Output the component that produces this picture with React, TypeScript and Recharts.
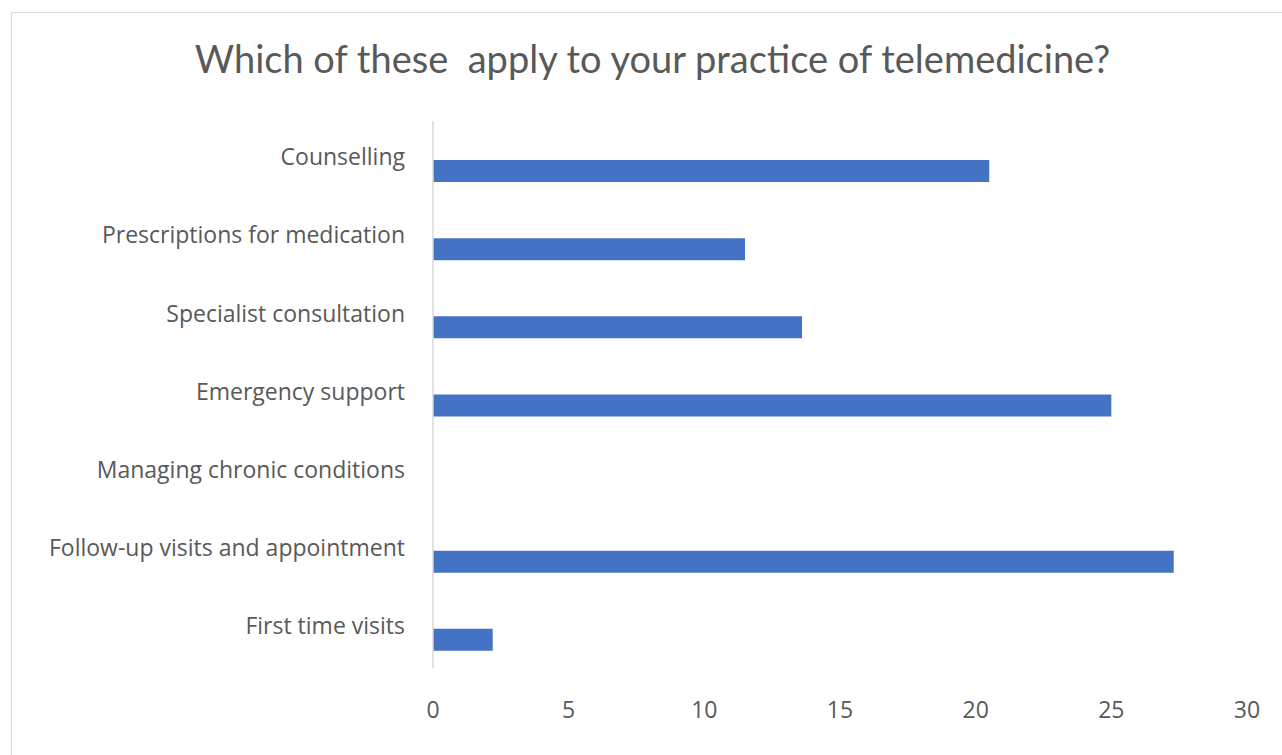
import { Bar, BarChart, XAxis, YAxis } from "recharts";

const categories = [
  "Counselling",
  "Prescriptions for medication",
  "Specialist consultation",
  "Emergency support",
  "Managing chronic conditions",
  "Follow-up visits and appointment",
  "First time visits",
];

// second series in the source is empty, so only the lower bar of each pair shows
const emptySeries = [null, null, null, null, null, null, null];
const responses = [20.5, 11.5, 13.6, 25, 0, 27.3, 2.2];

const xTicks = [0, 5, 10, 15, 20, 25, 30];

const data = categories.map((name, i) => ({
  name,
  empty: emptySeries[i],
  value: responses[i],
}));

const FONT = "'Open Sans', sans-serif";
const TEXT = "#595959";

export default function App() {
  return (
    <div style={{ position: "absolute", left: 0, top: 0, width: 1282, height: 755, background: "#fff" }}>
      <div
        style={{
          position: "absolute",
          left: 11,
          top: 12,
          right: 0,
          bottom: 0,
          borderLeft: "1.5px solid #d9d9d9",
          borderTop: "1.5px solid #d9d9d9",
        }}
      />
      <div
        style={{
          position: "absolute",
          left: 0,
          width: 1305,
          top: 35,
          textAlign: "center",
          fontFamily: "Lato, sans-serif",
          fontSize: 38,
          color: TEXT,
          whiteSpace: "pre",
        }}
      >
        Which of these  apply to your practice of telemedicine?
      </div>
      <BarChart
        width={1282}
        height={755}
        data={data}
        layout="vertical"
        margin={{ top: 121, right: 35, bottom: 0, left: 0 }}
        barGap={0}
        barSize={22}
        style={{ position: "absolute", left: 0, top: 0 }}
      >
        <XAxis
          type="number"
          domain={[0, 30]}
          ticks={xTicks}
          axisLine={false}
          tickLine={false}
          tickSize={0}
          tickMargin={34}
          height={87}
          tick={{ fill: TEXT, fontSize: 23, fontFamily: FONT }}
        />
        <YAxis
          type="category"
          dataKey="name"
          width={433}
          axisLine={{ stroke: "#d9d9d9", strokeWidth: 1.5 }}
          tickLine={false}
          tickSize={0}
          tickMargin={28}
          tick={{ fill: TEXT, fontSize: 23, fontFamily: FONT, dy: -3 }}
          interval={0}
        />
        <Bar dataKey="empty" fill="#ed7d31" isAnimationActive={false} />
        <Bar dataKey="value" fill="#4472c4" isAnimationActive={false} />
      </BarChart>
    </div>
  );
}
